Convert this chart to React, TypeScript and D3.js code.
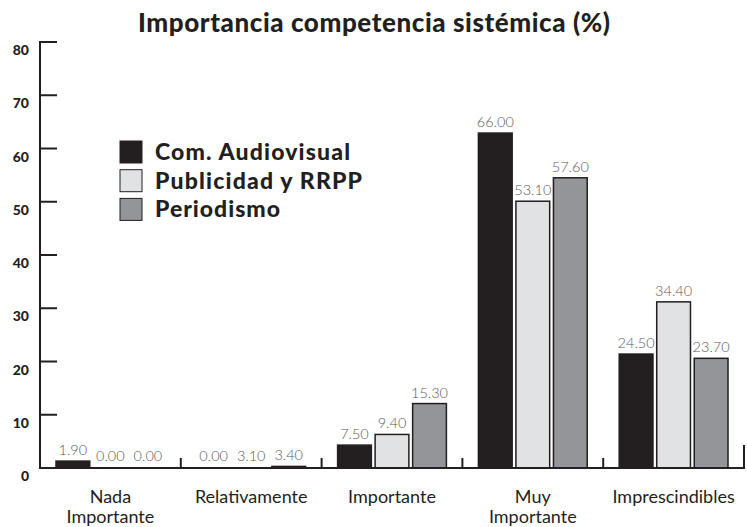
import React from "react";
import * as d3 from "d3";

const categories = ["Nada Importante", "Relativamente", "Importante", "Muy Importante", "Imprescindibles"];
const categoryLines = [["Nada", "Importante"], ["Relativamente"], ["Importante"], ["Muy", "Importante"], ["Imprescindibles"]];
const seriesNames = ["Com. Audiovisual", "Publicidad y RRPP", "Periodismo"];
const seriesColors = ["#231f20", "#e1e2e3", "#939598"];

// value labels printed above the bars
const audiovisualLabels = [1.9, 0.0, 7.5, 66.0, 24.5];
const publicidadLabels = [0.0, 3.1, 9.4, 53.1, 34.4];
const periodismoLabels = [0.0, 3.4, 15.3, 57.6, 23.7];

// bar heights as drawn in the picture (read against the axis)
const audiovisualBars = [1.3, 0, 4.3, 62.9, 21.4];
const publicidadBars = [0, 0, 6.3, 50.1, 31.2];
const periodismoBars = [0, 0.3, 12.1, 54.5, 20.6];

const yTicks = [0, 10, 20, 30, 40, 50, 60, 70, 80];
const title = "Importancia competencia sistémica (%)";

const labelSeries = [audiovisualLabels, publicidadLabels, periodismoLabels];
const barSeries = [audiovisualBars, publicidadBars, periodismoBars];
const legendWidths = [195, 207, 125];

export default function App() {
  const W = 747, H = 527;
  const left = 40, right = 744, top = 42, base = 468;
  const font = "Lato, 'Open Sans', sans-serif";
  const ink = "#231f20";

  const x = d3.scaleBand<string>().domain(categories).range([left, right]).paddingInner(0).paddingOuter(0);
  const cw = x.bandwidth();
  const xs = d3.scaleBand<string>().domain(seriesNames).range([16, cw - 16]).paddingInner(0.1);
  const y = d3.scaleLinear().domain([0, 80]).range([base, top]);

  return (
    <svg width={W} height={H} style={{ position: "absolute", left: 0, top: 0, background: "#fff" }} fontFamily={font}>
      <rect x={0} y={0} width={W} height={H} fill="#fff" />
      <text x={138} y={32} fontSize={26} fontWeight={900} fill={ink} textLength={472} lengthAdjust="spacing">{title}</text>

      {/* bars */}
      {categories.map((c, ci) => (
        <g key={c} transform={`translate(${x(c)},0)`}>
          {seriesNames.map((s, si) => {
            const v = barSeries[si][ci];
            const yt = y(v);
            const bx = xs(s)!;
            return (
              <g key={s}>
                {v > 0 && (
                  <rect x={bx} y={yt} width={xs.bandwidth()} height={base - yt}
                    fill={seriesColors[si]} stroke={ink} strokeWidth={1.5} />
                )}
                <text x={bx + xs.bandwidth() / 2} y={Math.min(yt - 6, base - 7)} textAnchor="middle"
                  fontSize={14.5} fontWeight={300} fill="#5a5a5c">
                  {labelSeries[si][ci].toFixed(2)}
                </text>
              </g>
            );
          })}
        </g>
      ))}

      {/* y axis */}
      <line x1={left} x2={left} y1={top - 1} y2={base + 1} stroke={ink} strokeWidth={2} />
      {yTicks.map(t => (
        <g key={t}>
          <line x1={left} x2={left + 17} y1={y(t)} y2={y(t)} stroke={ink} strokeWidth={2} />
          <text x={29} y={y(t) + 13} textAnchor="end" fontSize={14} fontWeight={900} fill={ink}>{t}</text>
        </g>
      ))}

      {/* x axis */}
      <line x1={left - 1} x2={right + 1} y1={base} y2={base} stroke={ink} strokeWidth={2} />
      {categories.slice(1).map(c => (
        <line key={c} x1={x(c)} x2={x(c)} y1={base} y2={base - 10} stroke={ink} strokeWidth={2} />
      ))}
      <line x1={right} x2={right} y1={base} y2={base - 23} stroke={ink} strokeWidth={2} />

      {categories.map((c, ci) => (
        <text key={c} x={x(c)! + cw / 2} y={503} textAnchor="middle" fontSize={18} fill={ink}>
          {categoryLines[ci].map((l, li) => (
            <tspan key={li} x={x(c)! + cw / 2} dy={li === 0 ? 0 : 20}>{l}</tspan>
          ))}
        </text>
      ))}

      {/* legend */}
      {seriesNames.map((s, si) => (
        <g key={s} transform={`translate(120,${141 + si * 28.7})`}>
          <rect x={0} y={0} width={22} height={22} fill={seriesColors[si]} stroke={ink} strokeWidth={1} />
          <text x={35} y={19} fontSize={23} fontWeight={900} fill={ink} textLength={legendWidths[si]} lengthAdjust="spacing">{s}</text>
        </g>
      ))}
    </svg>
  );
}
